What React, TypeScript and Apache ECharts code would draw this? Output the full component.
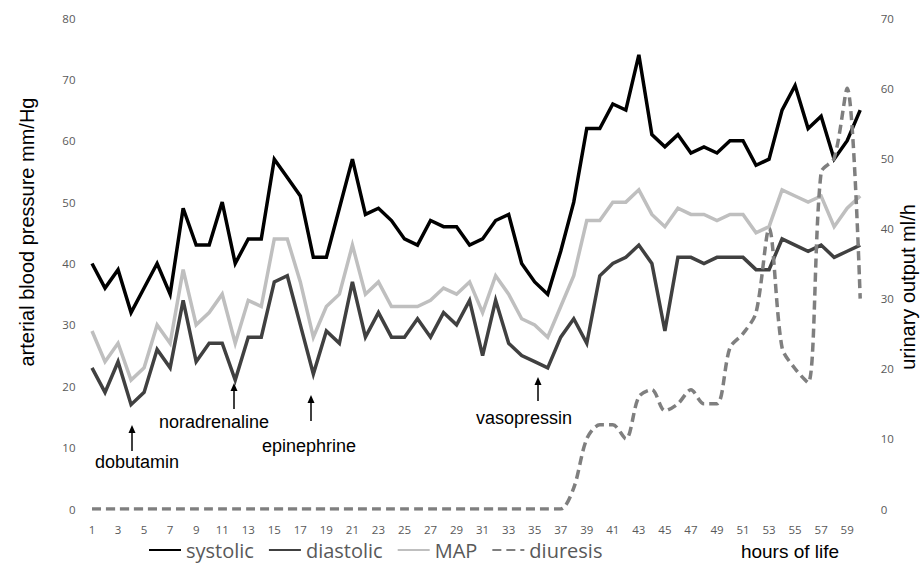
import React, { useEffect, useRef } from "react";
import * as echarts from "echarts";

const hours: string[] = Array.from({ length: 60 }, (_, i) => String(i + 1));

const systolic = [
  40, 36, 39, 32, 36, 40, 35, 49, 43, 43,
  50, 40, 44, 44, 57, 54, 51, 41, 41, 49,
  57, 48, 49, 47, 44, 43, 47, 46, 46, 43,
  44, 47, 48, 40, 37, 35, 42, 50, 62, 62,
  66, 65, 74, 61, 59, 61, 58, 59, 58, 60,
  60, 56, 57, 65, 69, 62, 64, 57, 60, 65,
];

const diastolic = [
  23, 19, 24, 17, 19, 26, 23, 34, 24, 27,
  27, 21, 28, 28, 37, 38, 30, 22, 29, 27,
  37, 28, 32, 28, 28, 31, 28, 32, 30, 34,
  25, 34, 27, 25, 24, 23, 28, 31, 27, 38,
  40, 41, 43, 40, 29, 41, 41, 40, 41, 41,
  41, 39, 39, 44, 43, 42, 43, 41, 42, 43,
];

const map = [
  29, 24, 27, 21, 23, 30, 27, 39, 30, 32,
  35, 27, 34, 33, 44, 44, 37, 28, 33, 35,
  43, 35, 37, 33, 33, 33, 34, 36, 35, 37,
  32, 38, 35, 31, 30, 28, 33, 38, 47, 47,
  50, 50, 52, 48, 46, 49, 48, 48, 47, 48,
  48, 45, 46, 52, 51, 50, 51, 46, 49, 51,
];

const diuresis = [
  0, 0, 0, 0, 0, 0, 0, 0, 0, 0,
  0, 0, 0, 0, 0, 0, 0, 0, 0, 0,
  0, 0, 0, 0, 0, 0, 0, 0, 0, 0,
  0, 0, 0, 0, 0, 0, 0, 3, 10, 12,
  12, 10, 16, 17, 14, 15, 17, 15, 15, 23,
  25, 28, 40, 23, 20, 18, 48, 50, 60, 30,
];

const seriesNames = ["systolic", "diastolic", "MAP", "diuresis"];
const leftAxisTitle = "arterial blood pressure mm/Hg";
const rightAxisTitle = "urinary output ml/h";
const xAxisTitle = "hours of life";

const annotations = [
  { label: "dobutamin", ax: 132, tipY: 425, tailY: 451, tx: 137, ty: 462 },
  { label: "noradrenaline", ax: 234, tipY: 383, tailY: 409, tx: 214, ty: 422 },
  { label: "epinephrine", ax: 311, tipY: 395, tailY: 421, tx: 309, ty: 446 },
  { label: "vasopressin", ax: 538, tipY: 377, tailY: 401, tx: 524, ty: 418 },
];

const tickFont = "'Open Sans', sans-serif";
const textFont = "'Liberation Sans', Arial, sans-serif";

export default function App() {
  const ref = useRef<HTMLDivElement>(null);

  useEffect(() => {
    if (!ref.current) return;
    const chart = echarts.init(ref.current, undefined, { renderer: "svg" });

    const graphics: any[] = [];
    annotations.forEach((a) => {
      graphics.push({
        type: "line",
        shape: { x1: a.ax, y1: a.tailY, x2: a.ax, y2: a.tipY + 5 },
        style: { stroke: "#000", lineWidth: 1.5 },
        z: 10,
      });
      graphics.push({
        type: "polygon",
        shape: { points: [[a.ax, a.tipY], [a.ax - 3.5, a.tipY + 8], [a.ax + 3.5, a.tipY + 8]] },
        style: { fill: "#000" },
        z: 10,
      });
      graphics.push({
        type: "text",
        x: a.tx,
        y: a.ty,
        style: {
          text: a.label,
          fontFamily: textFont,
          fontSize: 18,
          fill: "#000",
          align: "center",
          verticalAlign: "middle",
        },
        z: 10,
      });
    });
    graphics.push({
      type: "text",
      x: 27,
      y: 232,
      rotation: Math.PI / 2,
      style: {
        text: leftAxisTitle,
        fontFamily: textFont,
        fontSize: 20,
        fill: "#000",
        align: "center",
        verticalAlign: "middle",
      },
    });
    graphics.push({
      type: "text",
      x: 908,
      y: 287,
      rotation: Math.PI / 2,
      style: {
        text: rightAxisTitle,
        fontFamily: textFont,
        fontSize: 20,
        fill: "#000",
        align: "center",
        verticalAlign: "middle",
      },
    });
    graphics.push({
      type: "text",
      x: 790,
      y: 551,
      style: {
        text: xAxisTitle,
        fontFamily: textFont,
        fontSize: 19,
        fill: "#000",
        align: "center",
        verticalAlign: "middle",
      },
    });

    chart.setOption({
      animation: false,
      backgroundColor: "#fff",
      grid: { left: 85.5, right: 53.3, top: 18, bottom: 55, containLabel: false },
      legend: {
        data: seriesNames,
        left: 148,
        top: 539,
        padding: 0,
        itemWidth: 32,
        itemHeight: 8,
        itemGap: 14,
        itemStyle: { opacity: 0 },
        textStyle: { fontFamily: tickFont, fontSize: 20, lineHeight: 22, color: "#595959" },
      },
      xAxis: {
        type: "category",
        data: hours,
        boundaryGap: true,
        axisLine: { show: false },
        axisTick: { show: false },
        axisLabel: {
          interval: 1,
          margin: 14,
          fontFamily: tickFont,
          fontSize: 11.5,
          color: "#595959",
        },
      },
      yAxis: [
        {
          type: "value",
          min: 0,
          max: 80,
          interval: 10,
          splitLine: { show: false },
          axisLine: { show: false },
          axisTick: { show: false },
          axisLabel: { margin: 10, fontFamily: tickFont, fontSize: 11.5, color: "#595959" },
        },
        {
          type: "value",
          min: 0,
          max: 70,
          interval: 10,
          position: "right",
          splitLine: { show: false },
          axisLine: { show: false },
          axisTick: { show: false },
          axisLabel: { margin: 14, fontFamily: tickFont, fontSize: 11.5, color: "#595959" },
        },
      ],
      series: [
        {
          name: seriesNames[0],
          type: "line",
          data: systolic,
          symbol: "none",
          yAxisIndex: 0,
          lineStyle: { color: "#000000", width: 3.5, join: "miter" },
          itemStyle: { color: "#000000" },
          z: 5,
        },
        {
          name: seriesNames[1],
          type: "line",
          data: diastolic,
          symbol: "none",
          yAxisIndex: 0,
          lineStyle: { color: "#404040", width: 3.5, join: "miter" },
          itemStyle: { color: "#404040" },
          z: 4,
        },
        {
          name: seriesNames[2],
          type: "line",
          data: map,
          symbol: "none",
          yAxisIndex: 0,
          lineStyle: { color: "#bfbfbf", width: 3.5, join: "miter" },
          itemStyle: { color: "#bfbfbf" },
          z: 3,
        },
        {
          name: seriesNames[3],
          type: "line",
          data: diuresis,
          symbol: "none",
          yAxisIndex: 1,
          smooth: 0.3,
          lineStyle: { color: "#7f7f7f", width: 3.5, type: [9, 5] },
          itemStyle: { color: "#7f7f7f" },
          z: 6,
        },
      ],
      graphic: graphics,
    });

    return () => chart.dispose();
  }, []);

  return (
    <div
      ref={ref}
      style={{ position: "fixed", left: 0, top: 0, width: 920, height: 564, background: "#fff" }}
    />
  );
}
